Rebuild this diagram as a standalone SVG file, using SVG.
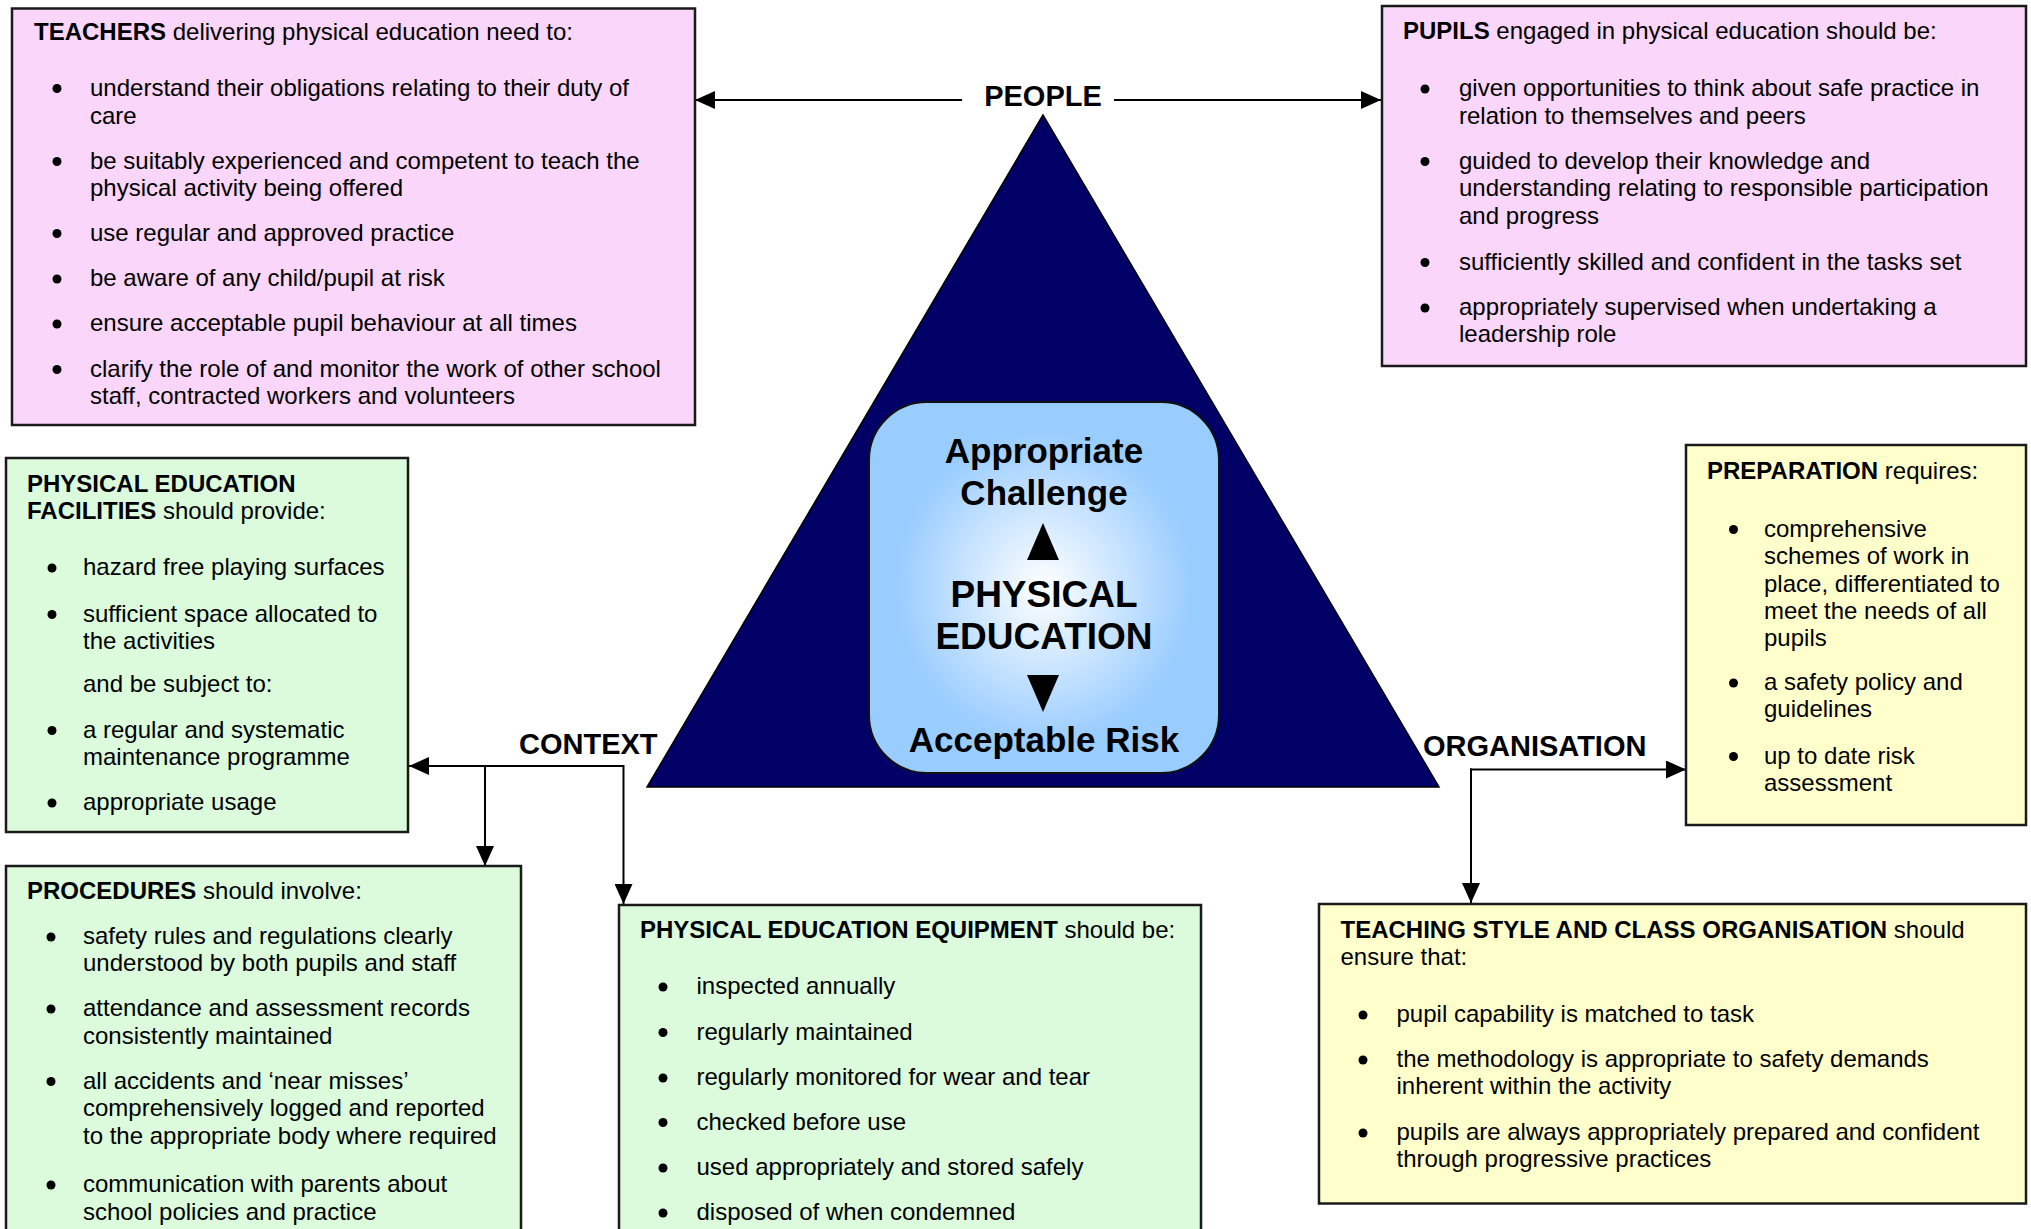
<svg xmlns="http://www.w3.org/2000/svg" width="2031" height="1229" viewBox="0 0 2031 1229">
<style>
  text { font-family: "Liberation Sans", Arial, sans-serif; fill: #000; }
  .t { font-size: 24px; }
  .b { font-weight: bold; }
  .dot { fill: #000; }
  .lbl { font-size: 29px; font-weight: bold; }
  .ctr { font-weight: bold; text-anchor: middle; }
  .pink { fill: #F9D6FA; stroke: #1a1a1a; stroke-width: 2.5; }
  .green { fill: #DCFADC; stroke: #1a1a1a; stroke-width: 2.5; }
  .yellow { fill: #FFFFCC; stroke: #1a1a1a; stroke-width: 2.5; }
  .conn { fill: none; stroke: #000; stroke-width: 2; }
</style>
<defs>
  <marker id="arr" markerUnits="userSpaceOnUse" markerWidth="20" markerHeight="18" refX="20" refY="9" orient="auto">
    <path d="M0,0 L20,9 L0,18 z" fill="#000"/>
  </marker>
  <radialGradient id="glow" cx="0.5" cy="0.5" r="0.5">
    <stop offset="0" stop-color="#FFFFFF"/>
    <stop offset="0.85" stop-color="#99CCFF"/>
    <stop offset="1" stop-color="#99CCFF"/>
  </radialGradient>
</defs>

<g id="connectors">
  <line class="conn" x1="962" y1="100" x2="695" y2="100" marker-end="url(#arr)"/>
  <line class="conn" x1="1114" y1="100" x2="1381" y2="100" marker-end="url(#arr)"/>
  <line class="conn" x1="623.5" y1="766" x2="409" y2="766" marker-end="url(#arr)"/>
  <line class="conn" x1="623.5" y1="765" x2="623.5" y2="904" marker-end="url(#arr)"/>
  <line class="conn" x1="485" y1="766" x2="485" y2="866" marker-end="url(#arr)"/>
  <line class="conn" x1="1470" y1="769.5" x2="1686" y2="769.5" marker-end="url(#arr)"/>
  <line class="conn" x1="1471" y1="768.5" x2="1471" y2="903" marker-end="url(#arr)"/>
</g>

<g id="centre">
  <polygon points="1043,115 647,787 1439,787" fill="#000066" stroke="#000" stroke-width="1.5"/>
  <rect x="869" y="402" width="350" height="371" rx="58" ry="58" fill="url(#glow)" stroke="#111" stroke-width="2"/>
  <text class="ctr" x="1044" y="463" font-size="35">Appropriate</text>
  <text class="ctr" x="1044" y="505" font-size="35">Challenge</text>
  <polygon points="1043,523 1027,560 1059,560" fill="#000"/>
  <text class="ctr" x="1044" y="607" font-size="37">PHYSICAL</text>
  <text class="ctr" x="1044" y="649" font-size="37">EDUCATION</text>
  <polygon points="1027,675 1059,675 1043,712" fill="#000"/>
  <text class="ctr" x="1044" y="752" font-size="35">Acceptable Risk</text>
</g>

<g id="labels">
  <text class="lbl" x="1043" y="106" text-anchor="middle">PEOPLE</text>
  <text class="lbl" x="519" y="754">CONTEXT</text>
  <text class="lbl" x="1423" y="756">ORGANISATION</text>
</g>

<g id="teachers">
  <rect class="pink" x="12" y="8.5" width="683" height="416.5"/>
  <text class="t" x="34" y="40"><tspan class="b">TEACHERS</tspan> delivering physical education need to:</text>
  <circle class="dot" cx="57" cy="88.5" r="4.5"/>
  <text class="t" x="90" y="96">understand their obligations relating to their duty of</text>
  <text class="t" x="90" y="123.5">care</text>
  <circle class="dot" cx="57" cy="161.5" r="4.5"/>
  <text class="t" x="90" y="168.5">be suitably experienced and competent to teach the</text>
  <text class="t" x="90" y="196">physical activity being offered</text>
  <circle class="dot" cx="57" cy="233.5" r="4.5"/>
  <text class="t" x="90" y="240.5">use regular and approved practice</text>
  <circle class="dot" cx="57" cy="279" r="4.5"/>
  <text class="t" x="90" y="286">be aware of any child/pupil at risk</text>
  <circle class="dot" cx="57" cy="324" r="4.5"/>
  <text class="t" x="90" y="331">ensure acceptable pupil behaviour at all times</text>
  <circle class="dot" cx="57" cy="369.5" r="4.5"/>
  <text class="t" x="90" y="376.5">clarify the role of and monitor the work of other school</text>
  <text class="t" x="90" y="404">staff, contracted workers and volunteers</text>
</g>

<g id="pupils">
  <rect class="pink" x="1382" y="6" width="644" height="360"/>
  <text class="t" x="1403" y="38.5"><tspan class="b">PUPILS</tspan> engaged in physical education should be:</text>
  <circle class="dot" cx="1425" cy="89" r="4.5"/>
  <text class="t" x="1459" y="96">given opportunities to think about safe practice in</text>
  <text class="t" x="1459" y="123.5">relation to themselves and peers</text>
  <circle class="dot" cx="1425" cy="161.5" r="4.5"/>
  <text class="t" x="1459" y="168.5">guided to develop their knowledge and</text>
  <text class="t" x="1459" y="196">understanding relating to responsible participation</text>
  <text class="t" x="1459" y="223.5">and progress</text>
  <circle class="dot" cx="1425" cy="262.5" r="4.5"/>
  <text class="t" x="1459" y="269.5">sufficiently skilled and confident in the tasks set</text>
  <circle class="dot" cx="1425" cy="308" r="4.5"/>
  <text class="t" x="1459" y="315">appropriately supervised when undertaking a</text>
  <text class="t" x="1459" y="342">leadership role</text>
</g>

<g id="facilities">
  <rect class="green" x="6" y="458" width="402" height="374"/>
  <text class="t b" x="27" y="492">PHYSICAL EDUCATION</text>
  <text class="t" x="27" y="518.5"><tspan class="b">FACILITIES</tspan> should provide:</text>
  <circle class="dot" cx="52" cy="568" r="4.5"/>
  <text class="t" x="83" y="575">hazard free playing surfaces</text>
  <circle class="dot" cx="52" cy="614.5" r="4.5"/>
  <text class="t" x="83" y="621.5">sufficient space allocated to</text>
  <text class="t" x="83" y="648.5">the activities</text>
  <text class="t" x="83" y="692">and be subject to:</text>
  <circle class="dot" cx="52" cy="730.5" r="4.5"/>
  <text class="t" x="83" y="737.5">a regular and systematic</text>
  <text class="t" x="83" y="764.5">maintenance programme</text>
  <circle class="dot" cx="52" cy="803" r="4.5"/>
  <text class="t" x="83" y="810">appropriate usage</text>
</g>

<g id="procedures">
  <rect class="green" x="6" y="866" width="515" height="380"/>
  <text class="t" x="27" y="898.5"><tspan class="b">PROCEDURES</tspan> should involve:</text>
  <circle class="dot" cx="51" cy="937" r="4.5"/>
  <text class="t" x="83" y="944">safety rules and regulations clearly</text>
  <text class="t" x="83" y="971">understood by both pupils and staff</text>
  <circle class="dot" cx="51" cy="1009" r="4.5"/>
  <text class="t" x="83" y="1016">attendance and assessment records</text>
  <text class="t" x="83" y="1043.5">consistently maintained</text>
  <circle class="dot" cx="51" cy="1081.5" r="4.5"/>
  <text class="t" x="83" y="1088.5">all accidents and ‘near misses’</text>
  <text class="t" x="83" y="1116">comprehensively logged and reported</text>
  <text class="t" x="83" y="1143.5">to the appropriate body where required</text>
  <circle class="dot" cx="51" cy="1185" r="4.5"/>
  <text class="t" x="83" y="1192">communication with parents about</text>
  <text class="t" x="83" y="1219.5">school policies and practice</text>
</g>

<g id="equipment">
  <rect class="green" x="619" y="905" width="582" height="340"/>
  <text class="t" x="640" y="937.5"><tspan class="b">PHYSICAL EDUCATION EQUIPMENT</tspan> should be:</text>
  <circle class="dot" cx="663" cy="987" r="4.5"/>
  <text class="t" x="696.5" y="994">inspected annually</text>
  <circle class="dot" cx="663" cy="1032.5" r="4.5"/>
  <text class="t" x="696.5" y="1039.5">regularly maintained</text>
  <circle class="dot" cx="663" cy="1078" r="4.5"/>
  <text class="t" x="696.5" y="1085">regularly monitored for wear and tear</text>
  <circle class="dot" cx="663" cy="1122.5" r="4.5"/>
  <text class="t" x="696.5" y="1129.5">checked before use</text>
  <circle class="dot" cx="663" cy="1168" r="4.5"/>
  <text class="t" x="696.5" y="1175">used appropriately and stored safely</text>
  <circle class="dot" cx="663" cy="1213" r="4.5"/>
  <text class="t" x="696.5" y="1220">disposed of when condemned</text>
</g>

<g id="preparation">
  <rect class="yellow" x="1686" y="445" width="340" height="380"/>
  <text class="t" x="1707" y="478.5"><tspan class="b">PREPARATION</tspan> requires:</text>
  <circle class="dot" cx="1733.5" cy="529.5" r="4.5"/>
  <text class="t" x="1764" y="536.5">comprehensive</text>
  <text class="t" x="1764" y="563.5">schemes of work in</text>
  <text class="t" x="1764" y="591.5">place, differentiated to</text>
  <text class="t" x="1764" y="619">meet the needs of all</text>
  <text class="t" x="1764" y="645.5">pupils</text>
  <circle class="dot" cx="1733.5" cy="683" r="4.5"/>
  <text class="t" x="1764" y="690">a safety policy and</text>
  <text class="t" x="1764" y="717">guidelines</text>
  <circle class="dot" cx="1733.5" cy="756.5" r="4.5"/>
  <text class="t" x="1764" y="763.5">up to date risk</text>
  <text class="t" x="1764" y="791">assessment</text>
</g>

<g id="teaching">
  <rect class="yellow" x="1319" y="904" width="707" height="299.5"/>
  <text class="t" x="1340.5" y="937.5"><tspan class="b">TEACHING STYLE AND CLASS ORGANISATION</tspan> should</text>
  <text class="t" x="1340.5" y="964.5">ensure that:</text>
  <circle class="dot" cx="1363" cy="1015" r="4.5"/>
  <text class="t" x="1396.5" y="1022">pupil capability is matched to task</text>
  <circle class="dot" cx="1363" cy="1060" r="4.5"/>
  <text class="t" x="1396.5" y="1067">the methodology is appropriate to safety demands</text>
  <text class="t" x="1396.5" y="1094">inherent within the activity</text>
  <circle class="dot" cx="1363" cy="1133" r="4.5"/>
  <text class="t" x="1396.5" y="1140">pupils are always appropriately prepared and confident</text>
  <text class="t" x="1396.5" y="1167">through progressive practices</text>
</g>
</svg>
